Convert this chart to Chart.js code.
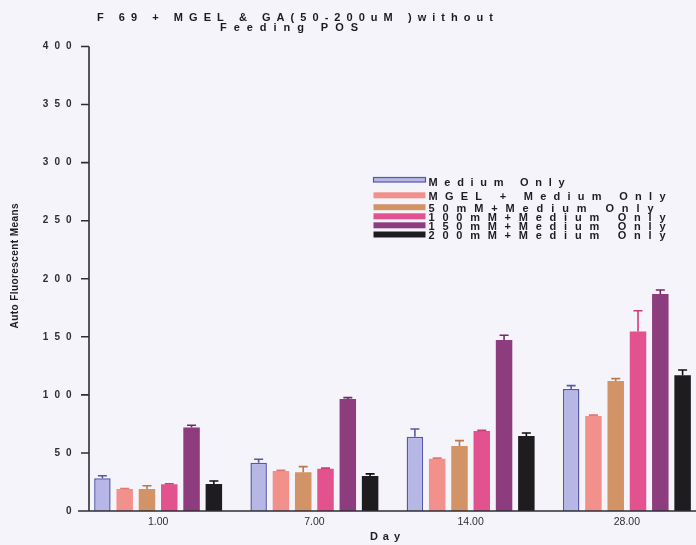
<!DOCTYPE html>
<html>
<head>
<meta charset="utf-8">
<script src="https://cdn.jsdelivr.net/npm/chart.js@4.4.1/dist/chart.umd.min.js"></script>
<style>
  html, body { margin: 0; padding: 0; overflow: hidden; background: #f5f4fa; }
  #wrap { width: 710px; height: 545px; }
</style>
</head>
<body>
<div id="wrap"><canvas id="c" width="710" height="545"></canvas></div>
<script>
// Day of measurement (x categories)
const days = ['1.00', '7.00', '14.00', '28.00'];

// Series names
const seriesNames = [
  'Medium Only',
  'MGEL + Medium Only',
  '50mM+Medium Only',
  '100mM+Medium Only',
  '150mM+Medium Only',
  '200mM+Medium Only'
];

// Mean auto-fluorescence per day
const mediumOnly = [28.2, 41.6, 64.0, 105.0];
const mgelMedium = [18.9, 34.5, 45.0, 81.8];
const ga50 = [19.0, 33.3, 56.0, 112.0];
const ga100 = [23.0, 36.4, 68.9, 154.5];
const ga150 = [71.8, 96.5, 147.3, 186.9];
const ga200 = [23.3, 30.1, 64.6, 116.9];

// Standard error (upper whisker) per day
const mediumOnlyErr = [2.2, 2.9, 6.6, 3.0];
const mgelMediumErr = [0.5, 0.5, 0.5, 0.8];
const ga50Err = [2.8, 4.9, 4.6, 2.0];
const ga100Err = [0.5, 0.5, 0.5, 18.0];
const ga150Err = [2.0, 1.1, 4.0, 3.4];
const ga200Err = [2.5, 1.9, 2.6, 4.5];

const titleLines = ['F 69 + MGEL & GA(50-200uM )without', 'Feeding POS'];
const yAxisTitle = 'Auto Fluorescent Means';
const xAxisTitle = 'Day';

const fills = ['#b7b7e6', '#f2918c', '#d29467', '#e2528f', '#8d3d7d', '#1e1c1e'];
const edges = ['#5858aa', '#e27670', '#b97a4e', '#cc3c7a', '#732a66', '#111111'];

const values = [mediumOnly, mgelMedium, ga50, ga100, ga150, ga200];
const errors = [mediumOnlyErr, mgelMediumErr, ga50Err, ga100Err, ga150Err, ga200Err];

const datasets = seriesNames.map((name, i) => ({
  label: name,
  data: values[i],
  errors: errors[i],
  backgroundColor: fills[i],
  borderColor: edges[i],
  borderWidth: i === 0 ? 1.5 : 0,
  categoryPercentage: 0.856,
  barPercentage: 0.74
}));

// Draws text so that its glyphs span exactly `width` pixels from x
function drawSpaced(ctx, text, x, y, width) {
  ctx.save();
  ctx.letterSpacing = '0px';
  const w = ctx.measureText(text).width;
  const s = text.length > 1 ? (width - w) / (text.length - 1) : 0;
  ctx.letterSpacing = s + 'px';
  ctx.textAlign = 'left';
  ctx.fillText(text, x, y);
  ctx.restore();
}

// Wide letter spacing on y tick labels and the x-axis title
const spacingPatch = {
  id: 'spacingPatch',
  afterLayout(chart) {
    const ys = chart.scales.y, xs = chart.scales.x;
    if (!ys._spaced) {
      const orig = ys.drawLabels;
      ys.drawLabels = function (area) {
        const c = this.ctx; c.save(); c.letterSpacing = '6px'; orig.call(this, area); c.restore();
      };
      ys._spaced = true;
    }
    if (!xs._spaced) {
      const orig = xs.drawTitle;
      xs.drawTitle = function () {
        const c = this.ctx; c.save(); c.letterSpacing = '5px'; c.translate(-5, 0); orig.call(this); c.restore();
      };
      xs._spaced = true;
    }
  }
};

// Upper error whiskers with caps
const errorBars = {
  id: 'errorBars',
  afterDatasetsDraw(chart) {
    const ctx = chart.ctx, y = chart.scales.y;
    chart.data.datasets.forEach((ds, i) => {
      const meta = chart.getDatasetMeta(i);
      meta.data.forEach((bar, j) => {
        const top = y.getPixelForValue(ds.data[j] + ds.errors[j]);
        ctx.save();
        ctx.strokeStyle = ds.borderColor;
        ctx.lineWidth = 1.6;
        ctx.beginPath();
        ctx.moveTo(bar.x, bar.y);
        ctx.lineTo(bar.x, top);
        ctx.moveTo(bar.x - 4.5, top);
        ctx.lineTo(bar.x + 4.5, top);
        ctx.stroke();
        ctx.restore();
      });
    });
  }
};

// Title, legend, axis lines and y-axis title
const decorations = {
  id: 'decorations',
  afterDraw(chart) {
    const ctx = chart.ctx;
    const ys = chart.scales.y;
    const area = chart.chartArea;

    // axis lines
    ctx.save();
    ctx.strokeStyle = '#2e2e34';
    ctx.lineWidth = 1.6;
    ctx.beginPath();
    ctx.moveTo(89, ys.getPixelForValue(400));
    ctx.lineTo(89, ys.getPixelForValue(0));
    ctx.moveTo(78, area.bottom);
    ctx.lineTo(area.right, area.bottom);
    ys.ticks.forEach(t => {
      const py = ys.getPixelForValue(t.value);
      ctx.moveTo(81, py);
      ctx.lineTo(89, py);
    });
    ctx.stroke();
    ctx.restore();

    // title
    ctx.save();
    ctx.fillStyle = '#1c1c20';
    ctx.font = 'bold 11px "Liberation Sans", Arial, sans-serif';
    ctx.textBaseline = 'alphabetic';
    drawSpaced(ctx, titleLines[0], 97, 20.5, 396);
    drawSpaced(ctx, titleLines[1], 220, 31, 138);
    ctx.restore();

    // legend
    const rows = [
      { sy: 177.5, sh: 4.5, ty: 186, tw: 136 },
      { sy: 192.3, sh: 6, ty: 199.5, tw: 237 },
      { sy: 204.2, sh: 6, ty: 211.7, tw: 225 },
      { sy: 213.3, sh: 6, ty: 221, tw: 237 },
      { sy: 222.3, sh: 6, ty: 230, tw: 237 },
      { sy: 231.5, sh: 6, ty: 239, tw: 237 }
    ];
    ctx.save();
    ctx.font = 'bold 11px "Liberation Sans", Arial, sans-serif';
    chart.data.datasets.forEach((ds, i) => {
      const r = rows[i];
      ctx.fillStyle = ds.backgroundColor;
      ctx.fillRect(373.5, r.sy, 52, r.sh);
      if (ds.borderWidth) {
        ctx.strokeStyle = ds.borderColor;
        ctx.lineWidth = 1.2;
        ctx.strokeRect(373.5, r.sy, 52, r.sh);
      }
      ctx.fillStyle = '#1e1e22';
      drawSpaced(ctx, ds.label, 428.5, r.ty, r.tw);
    });
    ctx.restore();

    // y-axis title
    ctx.save();
    ctx.translate(17.5, 266);
    ctx.rotate(-Math.PI / 2);
    ctx.fillStyle = '#1e1e22';
    ctx.font = 'bold 10px "Liberation Sans", Arial, sans-serif';
    ctx.textBaseline = 'alphabetic';
    ctx.letterSpacing = '0px';
    const w = ctx.measureText(yAxisTitle).width;
    drawSpaced(ctx, yAxisTitle, -62.5, 0, Math.max(w, 125));
    ctx.restore();
  }
};

new Chart(document.getElementById('c'), {
  type: 'bar',
  data: { labels: days, datasets },
  options: {
    responsive: false,
    animation: false,
    devicePixelRatio: 1,
    layout: { padding: { top: 46.5, right: 5, left: 0, bottom: 0 } },
    plugins: { legend: { display: false }, title: { display: false }, tooltip: { enabled: false } },
    scales: {
      x: {
        grid: { display: false, drawTicks: false },
        border: { display: false },
        ticks: {
          padding: 5,
          color: '#2e2e32',
          font: { family: '"Liberation Sans", Arial, sans-serif', size: 10.5 }
        },
        title: {
          display: true,
          text: xAxisTitle,
          color: '#1e1e22',
          padding: { top: 0, bottom: 1 },
          font: { family: '"Liberation Sans", Arial, sans-serif', size: 11, weight: 'bold' }
        },
        afterFit(scale) { scale.height = 34; }
      },
      y: {
        min: 0,
        max: 400,
        grid: { display: false, drawTicks: false },
        border: { display: false },
        ticks: {
          stepSize: 50,
          padding: 2.5,
          color: '#2e2e32',
          font: { family: '"Liberation Sans", Arial, sans-serif', size: 10, weight: 'bold' }
        },
        afterFit(scale) { scale.width = 80; }
      }
    }
  },
  plugins: [spacingPatch, errorBars, decorations]
});
</script>
</body>
</html>
